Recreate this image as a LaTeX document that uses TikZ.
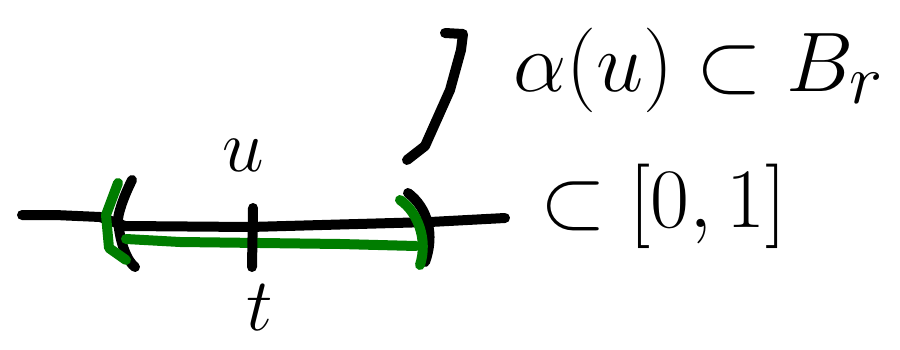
\documentclass[tikz,border=0pt]{standalone}
\usepackage{amsmath,amssymb}
\usepackage{graphicx}
\usepackage{tikz}
\usetikzlibrary{positioning, calc}
\definecolor{penGreen}{RGB}{0,125,0}
\newcommand{\bigmath}[1]{\scalebox{3.4}{\Huge$#1$}}
\newcommand{\midmath}[1]{\scalebox{3.0}{\Huge$#1$}}
\tikzset{
    ink/.style={line width=10pt, line cap=round, line join=round, black},
    inkgreen/.style={line width=10pt, line cap=round, line join=round, penGreen},
    textlabel/.style={inner sep=0pt}
}
\begin{document}
\begin{tikzpicture}[x=1pt, y=-1pt]

    \useasboundingbox (0,0) rectangle (900,350);

    % Points
    \coordinate (lineL) at (22,215);
    \coordinate (lineR) at (505,218);
    \coordinate (tick) at (253,222);
    \coordinate (hookEnd) at (407,160);

    % Main line
    \draw[ink] (lineL) -- (55,215) -- (100,217) -- (125,226) -- (250,227) -- (430,222) -- (lineR);

    % Black brackets
    \draw[ink] (132,180) .. controls (122,200) and (118,215) .. (118,220) .. controls (120,245) and (128,262) .. (135,267);
    \draw[ink] (408,193) .. controls (428,208) and (435,235) .. (425,262);

    % Green brackets and segment
    \draw[inkgreen] (118,183) -- (106,215) -- (109,248) -- (126,260);
    \draw[inkgreen] (400,200) .. controls (418,212) and (428,240) .. (420,265);
    \draw[inkgreen] (126,239) -- (180,242) -- (340,244) -- (416,246);

    % Tick
    \draw[ink] ($(tick)+(0,-14)$) -- ($(tick)+(-1,45)$);

    % Hook to the text
    \draw[ink] (hookEnd) -- (425,146) -- (450,90) -- (461,50) -- (463,34) -- (445,33);

    % Labels
    \node[textlabel] (u) at (243,155) {\midmath{u}};
    \node[textlabel] (t) at (260,308) {\midmath{t}};
    \node[textlabel, anchor=west] (sub) at (540,206) {\bigmath{\subset [0,1]}};
    \node[textlabel, anchor=west] (alpha) at (513,70) {\bigmath{\alpha(u) \subset B_r}};

\end{tikzpicture}
\end{document}
